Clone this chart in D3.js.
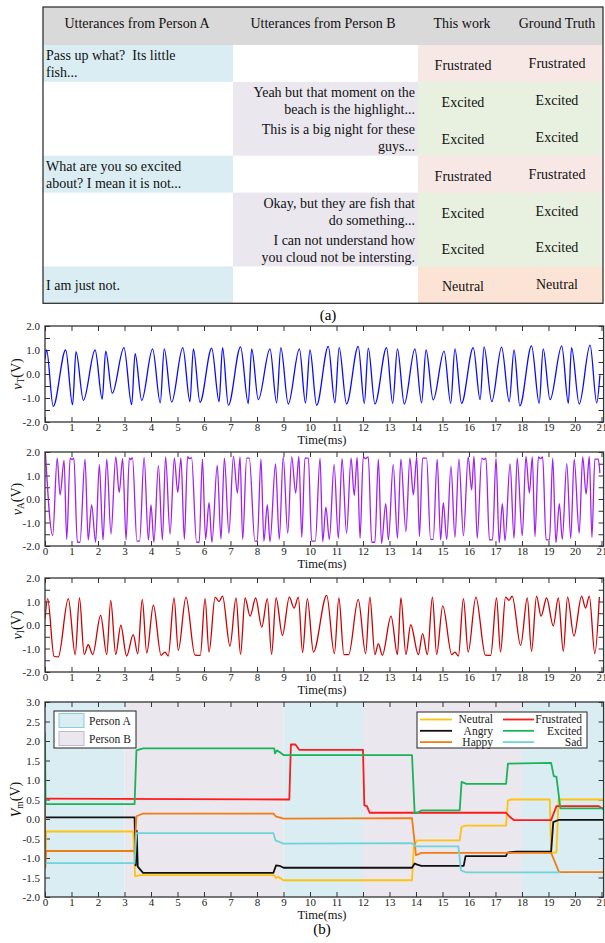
<!DOCTYPE html>
<html>
<head>
<meta charset="utf-8">
<script src="https://cdn.jsdelivr.net/npm/d3@7/dist/d3.min.js"></script>
<style>
  html, body { margin: 0; padding: 0; background: #fff; }
  svg { display: block; }
  svg text { font-family: "Liberation Serif", "DejaVu Serif", serif; }
</style>
</head>
<body>
<svg id="fig" width="605" height="943" font-family="Liberation Serif, DejaVu Serif, serif"></svg>
<script>
// ---------------- (a) dialogue table ----------------
const tableHeaders = ["Utterances from Person A", "Utterances from Person B", "This work", "Ground Truth"];
const speakers = ["A", "B", "B", "A", "B", "B", "A"];
const utterances = [
  ["Pass up what?  Its little", "fish..."],
  ["Yeah but that moment on the", "beach is the highlight..."],
  ["This is a big night for these", "guys..."],
  ["What are you so excited", "about? I mean it is not..."],
  ["Okay, but they are fish that", "do something..."],
  ["I can not understand how", "you cloud not be intersting."],
  ["I am just not."]
];
const predicted = ["Frustrated", "Excited", "Excited", "Frustrated", "Excited", "Excited", "Neutral"];
const groundTruth = ["Frustrated", "Excited", "Excited", "Frustrated", "Excited", "Excited", "Neutral"];

// ---------------- (b) waveforms (extrema, time in ms / volts) ----------------
const timeTicks = d3.range(0, 22);

const vT_t = [0, 0.06, 0.31, 0.78, 1.04, 1.17, 1.45, 1.89, 2.16, 2.29, 2.54, 2.98, 3.27, 3.40, 3.65, 4.06, 4.35, 4.50, 4.78, 5.20,
  5.47, 5.60, 5.85, 6.29, 6.57, 6.70, 6.92, 7.38, 7.67, 7.80, 8.05, 8.49, 8.74, 8.90, 9.18, 9.60, 9.83, 10.00, 10.25, 10.69,
  10.94, 11.10, 11.38, 11.82, 12.05, 12.20, 12.45, 12.89, 13.12, 13.30, 13.56, 13.96, 14.21, 14.38, 14.65, 15.06, 15.31, 15.47, 15.72, 16.16,
  16.42, 16.57, 16.86, 17.23, 17.52, 17.70, 17.92, 18.36, 18.65, 18.80, 19.06, 19.50, 19.75, 19.87, 20.16, 20.57, 20.82, 20.94];
const vT_v = [0.6, 1.0, -1.35, 1.0, -1.28, 0.93, -1.1, 1.0, -1.05, 0.95, -0.8, 1.1, -1.28, 0.85, -1.1, 1.05, -1.2, 1.05, -1.17, 1.1,
  -1.15, 1.05, -1.18, 1.08, -1.15, 1.1, -1.3, 1.13, -1.23, 1.05, -1.07, 1.05, -1.2, 1.1, -1.25, 1.05, -1.21, 1.0, -1.3, 1.15,
  -1.2, 1.1, -1.25, 1.15, -1.22, 1.08, -1.25, 1.1, -1.22, 1.05, -1.25, 1.05, -1.2, 1.0, -1.08, 0.95, -1.22, 1.05, -1.22, 1.1,
  -1.07, 1.13, -1.15, 1.12, -1.15, 1.0, -1.33, 1.17, -1.22, 1.05, -1.07, 1.17, -1.22, 1.1, -1.25, 1.2, -1.2, -0.05];

const vA_t = [0.02, 0.29, 0.46, 0.57, 0.72, 0.82, 0.95, 1.02, 1.09, 1.22, 1.32, 1.51, 1.63, 1.76, 1.91, 2.05, 2.19, 2.33, 2.49, 2.67,
  2.80, 2.93, 3.06, 3.18, 3.24, 3.30, 3.47, 3.57, 3.74, 3.90, 4.00, 4.11, 4.28, 4.43, 4.55, 4.72, 4.88, 5.01, 5.13, 5.26,
  5.38, 5.45, 5.53, 5.72, 5.82, 5.94, 6.06, 6.19, 6.30, 6.50, 6.64, 6.77, 6.94, 7.11, 7.26, 7.36, 7.46, 7.61, 7.71, 7.92,
  8.01, 8.15, 8.26, 8.39, 8.49, 8.70, 8.84, 8.99, 9.16, 9.31, 9.46, 9.58, 9.69, 9.81, 9.94, 10.06, 10.20, 10.38, 10.48, 10.60,
  10.73, 10.91, 11.07, 11.21, 11.38, 11.55, 11.67, 11.78, 11.89, 12.01, 12.10, 12.20, 12.33, 12.45, 12.58, 12.70, 12.86, 12.96, 13.14, 13.30,
  13.43, 13.62, 13.77, 13.90, 14.03, 14.13, 14.25, 14.40, 14.55, 14.65, 14.80, 14.93, 15.03, 15.16, 15.32, 15.47, 15.62, 15.79, 15.97, 16.10,
  16.19, 16.31, 16.48, 16.56, 16.64, 16.77, 16.89, 17.02, 17.14, 17.26, 17.36, 17.55, 17.70, 17.82, 18.01, 18.15, 18.28, 18.39, 18.49, 18.62,
  18.70, 18.78, 18.91, 19.04, 19.16, 19.28, 19.41, 19.52, 19.69, 19.84, 19.97, 20.16, 20.29, 20.42, 20.54, 20.64, 20.75, 20.88, 20.94];
const vA_v = [1.88, -1.55, 1.74, 0.18, 1.64, -1.72, 1.74, 1.68, 1.74, -1.84, -1.84, 1.7, -1.74, -0.25, -1.84, 1.46, -1.74, 1.7, -1.49, 1.79,
  0.28, 1.72, -1.74, 1.74, 1.68, 1.76, -1.79, -1.79, 1.77, -1.74, -0.25, -1.84, 1.42, -1.74, 1.79, -1.49, 1.74, 0.28, 1.74, -1.72,
  1.8, 1.72, 1.76, -1.84, -1.84, 1.7, -1.72, -0.15, -1.84, 1.43, -1.7, 1.74, -1.46, 1.81, 0.25, 1.79, -1.72, 1.74, 1.74, -1.79,
  -1.79, 1.7, -1.79, -0.25, -1.82, 1.49, -1.72, 1.79, -1.46, 1.79, 0.25, 1.81, -1.63, 1.74, 1.74, -1.79, -1.79, 1.74, -1.82, -0.35,
  -1.72, 1.46, -1.67, 1.72, -1.46, 1.74, 0.15, 1.77, -1.67, 1.79, 1.72, 1.79, -1.84, -1.84, 1.7, -1.89, -0.2, -1.74, 1.46, -1.67,
  1.7, -1.39, 1.74, 0.18, 1.79, -1.6, 1.74, 1.74, -1.72, -1.72, 1.7, -1.74, -0.15, -1.72, 1.39, -1.63, 1.7, -1.57, 1.79, 0.39,
  1.81, -1.67, 1.74, 1.68, 1.74, -1.74, -1.74, 1.74, -1.86, -0.2, -1.77, 1.49, -1.67, 1.74, -1.57, 1.81, 0.25, 1.79, -1.6, 1.79,
  1.72, 1.79, -1.74, -1.74, 1.74, -1.86, -0.2, -1.72, 1.5, -1.67, 1.7, -1.46, 1.79, 0.21, 1.81, -1.63, 1.7, 1.7, 1.1];

const vI_t = [0.0, 0.10, 0.34, 0.50, 0.88, 1.14, 1.30, 1.48, 1.63, 1.80, 2.10, 2.33, 2.48, 2.67, 2.86, 3.08, 3.33, 3.50, 3.67, 3.84,
  4.09, 4.38, 4.53, 4.65, 4.87, 5.03, 5.32, 5.66, 5.86, 6.04, 6.19, 6.42, 6.57, 6.70, 6.98, 7.21, 7.38, 7.55, 7.74, 7.95,
  8.18, 8.39, 8.55, 8.72, 8.96, 9.22, 9.40, 9.56, 9.72, 9.90, 10.13, 10.63, 10.92, 11.09, 11.28, 11.46, 11.82, 12.10, 12.26, 12.45,
  12.58, 12.73, 13.06, 13.30, 13.43, 13.62, 13.80, 14.09, 14.25, 14.43, 14.62, 14.78, 15.01, 15.35, 15.47, 15.60, 15.79, 15.97, 16.26, 16.62,
  16.82, 17.04, 17.19, 17.38, 17.51, 17.63, 17.95, 18.20, 18.36, 18.55, 18.72, 18.93, 19.18, 19.37, 19.56, 19.72, 19.96, 20.25, 20.40, 20.54,
  20.75, 20.92];
const vI_v = [0.25, 1.12, -1.33, -1.36, 1.12, -1.26, 1.15, -1.26, -0.84, -1.26, 0.41, -1.26, 1.05, -1.26, -0.01, -1.32, -0.41, -1.23, 1.09, -1.19,
  0.84, -1.29, -1.15, -1.32, 1.15, -1.08, 1.19, -1.28, -1.29, 1.12, -1.15, 1.19, 1.0, 1.23, -0.9, 1.15, -1.25, 1.15, 0.38, 1.15,
  -0.09, 1.12, -1.25, 1.15, -0.44, 1.19, 0.72, 1.19, -1.17, 1.12, -1.15, 1.26, -1.22, 1.15, -1.26, -1.26, 1.09, -1.22, 1.19, -1.26,
  -0.79, -1.29, 0.38, -1.26, 1.15, -1.26, 0.01, -1.26, -0.37, -1.26, 1.19, -1.25, 0.81, -1.26, -1.15, -1.32, 1.12, -1.15, 1.19, -1.28,
  -1.29, 1.15, -1.15, 1.19, 1.05, 1.23, -0.87, 1.15, -1.12, 1.23, 0.38, 1.15, -0.04, 1.15, -1.12, 1.19, -0.47, 1.23, 0.72, 1.23,
  -1.22, 1.19];

// ---------------- (b) membrane voltage of emotion neurons ----------------
const emotions = ["Neutral", "Angry", "Happy", "Frustrated", "Excited", "Sad"];
const neutral_t = [0, 0.04, 3.33, 3.40, 3.60, 8.65, 8.72, 8.80, 9.00, 13.85, 13.92, 14.05, 15.65, 15.72, 15.90, 17.40, 17.47, 17.60, 19.05, 19.10, 19.30, 19.38, 21.08];
const neutral_v = [-1.25, -0.32, -0.32, -1.47, -1.44, -1.44, -1.52, -1.48, -1.57, -1.57, -0.67, -0.55, -0.55, -0.2, -0.17, -0.17, 0.48, 0.5, 0.5, -0.86, -0.86, 0.5, 0.5];
const angry_t = [0, 3.38, 3.42, 3.46, 3.50, 3.70, 8.62, 8.72, 8.85, 9.00, 13.85, 13.95, 14.05, 14.20, 15.80, 15.87, 17.40, 17.45, 17.80, 19.10, 19.18, 19.40, 21.08];
const angry_v = [0.04, 0.04, -1.19, -0.3, -1.22, -1.38, -1.38, -1.19, -1.2, -1.25, -1.25, -1.14, -1.17, -1.2, -1.2, -0.95, -0.95, -0.86, -0.84, -0.84, -0.08, -0.02, -0.02];
const happy_t = [0, 0.01, 0.04, 3.38, 3.45, 3.70, 8.62, 8.70, 9.00, 13.85, 14.00, 14.20, 19.10, 19.40, 21.08];
const happy_v = [0.4, -1.25, -0.82, -0.82, 0.07, 0.14, 0.14, 0.07, 0.01, 0.02, -0.93, -0.87, -0.87, -1.36, -1.36];
const frustrated_t = [0, 9.22, 9.28, 9.45, 9.60, 12.00, 12.05, 12.15, 12.25, 17.40, 17.55, 17.70, 19.10, 19.30, 20.90, 21.08];
const frustrated_v = [0.52, 0.5, 1.91, 1.91, 1.77, 1.77, 0.35, 0.33, 0.16, 0.16, 0.05, -0.03, -0.03, 0.33, 0.33, 0.25];
const excited_t = [0, 0.02, 3.38, 3.45, 3.70, 8.65, 8.68, 8.75, 8.85, 9.00, 13.85, 13.95, 14.05, 14.20, 15.65, 15.72, 15.90, 17.40, 17.47, 19.10, 19.20, 19.30, 19.45, 21.08];
const excited_v = [2.22, 0.38, 0.38, 1.76, 1.81, 1.81, 1.68, 1.76, 1.72, 1.64, 1.64, 0.15, 0.16, 0.22, 0.22, 0.95, 0.9, 0.9, 1.42, 1.44, 1.1, 1.08, 0.27, 0.27];
const sad_t = [0, 3.38, 3.45, 8.62, 8.70, 9.00, 13.85, 14.00, 15.60, 15.70, 15.90, 19.45];
const sad_v = [-1.13, -1.13, -0.36, -0.36, -0.55, -0.63, -0.62, -0.7, -0.7, -1.32, -1.37, -1.37];

const turnStart = [0, 3, 9, 12, 18];
const turnEnd = [3, 9, 12, 18, 21.08];
const turnSpeaker = ["A", "B", "A", "B", "A"];

// ---------------- drawing ----------------
const svg = d3.select("#fig");
const FONT = "Liberation Serif, DejaVu Serif, serif";

const speakerFill = { A: "#daedf3", B: "#ebe7ef" };
const labelFill = { Frustrated: "#f7e8e6", Excited: "#e8f0df", Neutral: "#fbe4d5" };

// table geometry
const tL = 43, tR = 603, tTop = 7, headH = 38, rowH = 36.9;
const colX = [43, 233, 418, 510, 603];
const tBottom = tTop + headH + rowH * speakers.length;

const tab = svg.append("g").attr("font-family", FONT);
tab.append("rect").attr("x", tL).attr("y", tTop).attr("width", tR - tL).attr("height", headH).attr("fill", "#d9d9d9");
const headCx = [137, 323, 462, 557];
tableHeaders.forEach((h, i) => {
  tab.append("text").attr("x", headCx[i]).attr("y", tTop + 21).attr("text-anchor", "middle")
    .attr("font-size", 14).attr("fill", "#111").text(h);
});

speakers.forEach((s, i) => {
  const y0 = tTop + headH + i * rowH;
  const aFill = s === "A" ? speakerFill.A : "#ffffff";
  const bFill = s === "B" ? speakerFill.B : "#ffffff";
  tab.append("rect").attr("x", colX[0]).attr("y", y0).attr("width", colX[1] - colX[0]).attr("height", rowH + 0.5).attr("fill", aFill);
  tab.append("rect").attr("x", colX[1]).attr("y", y0).attr("width", colX[2] - colX[1]).attr("height", rowH + 0.5).attr("fill", bFill);
  tab.append("rect").attr("x", colX[2]).attr("y", y0).attr("width", colX[3] - colX[2]).attr("height", rowH + 0.5).attr("fill", labelFill[predicted[i]]);
  tab.append("rect").attr("x", colX[3]).attr("y", y0).attr("width", colX[4] - colX[3]).attr("height", rowH + 0.5).attr("fill", labelFill[groundTruth[i]]);

  const lines = utterances[i];
  const tx = s === "A" ? colX[0] + 3 : colX[2] - 3;
  const anchor = s === "A" ? "start" : "end";
  lines.forEach((ln, k) => {
    const yy = lines.length === 1 ? y0 + rowH / 2 + 5 : y0 + 15 + k * 17;
    tab.append("text").attr("x", tx).attr("y", yy).attr("text-anchor", anchor)
      .style("white-space", "pre").attr("xml:space", "preserve")
      .attr("font-size", 14).attr("fill", "#111").text(ln);
  });
  tab.append("text").attr("x", 463).attr("y", y0 + rowH / 2 + 6.5).attr("text-anchor", "middle")
    .attr("font-size", 14).attr("fill", "#111").text(predicted[i]);
  tab.append("text").attr("x", 557).attr("y", y0 + rowH / 2 + 4.5).attr("text-anchor", "middle")
    .attr("font-size", 14).attr("fill", "#111").text(groundTruth[i]);
});
tab.append("rect").attr("x", tL).attr("y", tTop).attr("width", tR - tL).attr("height", tBottom - tTop)
  .attr("fill", "none").attr("stroke", "#333").attr("stroke-width", 1.3);
svg.append("text").attr("x", 328).attr("y", 320).attr("text-anchor", "middle").attr("font-size", 15).text("(a)");

// shared time scale
const x = d3.scaleLinear().domain([0, 21.08]).range([45, 603.6]);
const fmt = d => (d < 0 ? "-" : "") + Math.abs(d).toFixed(1);

function frame(top, bottom, y, yTicks, yFormat, clipId) {
  const g = svg.append("g");
  g.append("clipPath").attr("id", clipId).append("rect")
    .attr("x", x.range()[0]).attr("y", top).attr("width", x.range()[1] - x.range()[0]).attr("height", bottom - top);
  const axB = g.append("g").attr("transform", `translate(0,${bottom})`)
    .call(d3.axisBottom(x).tickValues(timeTicks).tickSizeInner(-5).tickSizeOuter(0).tickPadding(1).tickFormat(d3.format("d")));
  const axT = g.append("g").attr("transform", `translate(0,${top})`)
    .call(d3.axisTop(x).tickValues(timeTicks).tickSizeInner(-5).tickSizeOuter(0).tickFormat(""));
  const axL = g.append("g").attr("transform", `translate(${x.range()[0]},0)`)
    .call(d3.axisLeft(y).tickValues(yTicks).tickSizeInner(-5).tickSizeOuter(0).tickPadding(5).tickFormat(yFormat));
  const axR = g.append("g").attr("transform", `translate(${x.range()[1]},0)`)
    .call(d3.axisRight(y).tickValues(yTicks).tickSizeInner(-5).tickSizeOuter(0).tickFormat(""));
  [axB, axT, axL, axR].forEach(a => {
    a.attr("font-family", FONT);
    a.select(".domain").remove();
    a.selectAll("line").attr("stroke", "#333").attr("stroke-width", 1);
    a.selectAll("text").attr("font-family", FONT).attr("font-size", 11).attr("fill", "#222");
  });
  g.append("text").attr("x", 322).attr("y", bottom + 22).attr("text-anchor", "middle")
    .attr("font-family", FONT).attr("font-size", 12.5).attr("fill", "#111").text("Time(ms)");
  return g;
}

function border(g, top, bottom) {
  g.append("rect").attr("x", x.range()[0]).attr("y", top).attr("width", x.range()[1] - x.range()[0]).attr("height", bottom - top)
    .attr("fill", "none").attr("stroke", "#333").attr("stroke-width", 1.3);
}

function yLabel(g, bx, cy, main, sub) {
  const t = g.append("text").attr("transform", `translate(${bx},${cy}) rotate(-90)`).attr("text-anchor", "middle")
    .attr("font-family", FONT).attr("font-size", 14).attr("fill", "#111");
  t.append("tspan").attr("font-style", "italic").text(main);
  t.append("tspan").attr("font-size", 9.5).attr("dy", "0.25em").text(sub);
  t.append("tspan").attr("dy", "-0.25em").text("(V)");
}

const volt = d3.range(-2, 2.01, 0.5).map(v => Math.round(v * 10) / 10);
const wholeOnly = d => Number.isInteger(d) ? fmt(d) : "";

const waves = [
  { top: 326, bottom: 422, t: vT_t, v: vT_v, color: "#0a0aff", sub: "T", id: "c1" },
  { top: 452, bottom: 546, t: vA_t, v: vA_v, color: "#a020f0", sub: "A", id: "c2" },
  { top: 578, bottom: 672, t: vI_t, v: vI_v, color: "#cc0000", sub: "I", id: "c3" }
];
waves.forEach(w => {
  const y = d3.scaleLinear().domain([-2, 2]).range([w.bottom, w.top]);
  const g = frame(w.top, w.bottom, y, volt, wholeOnly, w.id);
  const pts = w.t.map((t, i) => [t, w.v[i]]);
  g.append("path").datum(pts).attr("clip-path", `url(#${w.id})`)
    .attr("fill", "none").attr("stroke", w.color).attr("stroke-width", 1.3).attr("stroke-linejoin", "round")
    .attr("d", d3.line().x(d => x(d[0])).y(d => y(d[1])).curve(d3.curveMonotoneX));
  border(g, w.top, w.bottom);
  yLabel(g, 22, (w.top + w.bottom) / 2, "v", w.sub);
});

// membrane voltage panel
const mTop = 702, mBottom = 897;
const yM = d3.scaleLinear().domain([-2, 3]).range([mBottom, mTop]);
const gm = svg.append("g");
turnStart.forEach((s, i) => {
  gm.append("rect").attr("x", x(s)).attr("y", mTop).attr("width", x(turnEnd[i]) - x(s)).attr("height", mBottom - mTop)
    .attr("fill", speakerFill[turnSpeaker[i]]);
});
const gAx = frame(mTop, mBottom, yM, d3.range(-2, 3.01, 0.5).map(v => Math.round(v * 10) / 10), fmt, "c4");

const emotionColor = ["#ffc20e", "#111111", "#f07d14", "#ff1a1a", "#19b358", "#6fd4d8"];
const emotionT = [neutral_t, angry_t, happy_t, frustrated_t, excited_t, sad_t];
const emotionV = [neutral_v, angry_v, happy_v, frustrated_v, excited_v, sad_v];
emotions.forEach((e, k) => {
  const pts = emotionT[k].map((t, i) => [t, emotionV[k][i]]);
  gAx.append("path").datum(pts).attr("clip-path", "url(#c4)")
    .attr("fill", "none").attr("stroke", emotionColor[k]).attr("stroke-width", 1.8).attr("stroke-linejoin", "round")
    .attr("d", d3.line().x(d => x(d[0])).y(d => yM(d[1])));
});
border(gAx, mTop, mBottom);
yLabel(gAx, 21, (mTop + mBottom) / 2, "V", "m");

// speaker legend
const lg1 = gAx.append("g").attr("font-family", FONT);
lg1.append("rect").attr("x", 54).attr("y", 711).attr("width", 82).attr("height", 37)
  .attr("fill", "#fff").attr("stroke", "#222").attr("stroke-width", 1);
[["Person A", speakerFill.A, "#86cfd8"], ["Person B", speakerFill.B, "#c4b6d8"]].forEach((d, i) => {
  lg1.append("rect").attr("x", 59).attr("y", 713.5 + i * 18).attr("width", 25).attr("height", 14)
    .attr("fill", d[1]).attr("stroke", d[2]).attr("stroke-width", 1);
  lg1.append("text").attr("x", 89).attr("y", 724.5 + i * 18).attr("font-size", 11.5).attr("fill", "#222").text(d[0]);
});

// emotion legend
const lg2 = gAx.append("g").attr("font-family", FONT);
lg2.append("rect").attr("x", 417).attr("y", 712).attr("width", 170).attr("height", 36)
  .attr("fill", "#fff").attr("stroke", "#222").attr("stroke-width", 1);
emotions.forEach((e, k) => {
  const col = Math.floor(k / 3), row = k % 3;
  const lx0 = col === 0 ? 420 : 503, lx1 = col === 0 ? 452 : 534, tx = col === 0 ? 493 : 582;
  const yy = 719.5 + row * 11.3;
  lg2.append("line").attr("x1", lx0).attr("x2", lx1).attr("y1", yy).attr("y2", yy)
    .attr("stroke", emotionColor[k]).attr("stroke-width", 1.8);
  lg2.append("text").attr("x", tx).attr("y", yy + 3.8).attr("text-anchor", "end")
    .attr("font-size", 11.5).attr("fill", "#222").text(e);
});

svg.append("text").attr("x", 322).attr("y", 934).attr("text-anchor", "middle").attr("font-family", FONT).attr("font-size", 15).text("(b)");
</script>
</body>
</html>
